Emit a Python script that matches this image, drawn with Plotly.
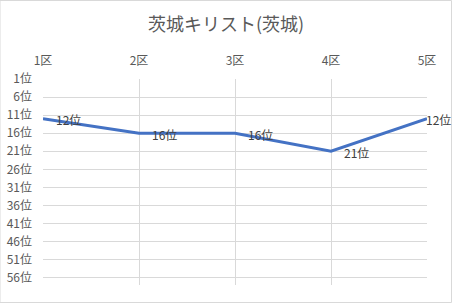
import plotly.graph_objects as go

categories = ["1区", "2区", "3区", "4区", "5区"]
ranks = [12, 16, 16, 21, 12]
labels = [f"{r}位" for r in ranks]

font_family = "Noto Sans CJK JP"
fig = go.Figure()
fig.add_trace(go.Scatter(
    x=categories, y=ranks, mode="lines",
    line=dict(color="#4472C4", width=3),
    cliponaxis=False, showlegend=False,
))
n = len(categories)
for i, (c, r, t) in enumerate(zip(categories, ranks, labels)):
    last = i == n - 1
    fig.add_annotation(x=c, y=r, text=t, showarrow=False, xanchor="left", yanchor="middle",
                       xshift=-3 if last else 11, yshift=-1,
                       font=dict(family=font_family, size=12, color="#404040"))
fig.update_layout(
    width=452, height=303,
    margin=dict(l=43, r=25, t=79, b=18, autoexpand=False),
    paper_bgcolor="white", plot_bgcolor="white",
    title=dict(text="茨城キリスト(茨城)", x=0.5, xanchor="center", y=1-25/303, yanchor="middle",
               font=dict(family=font_family, size=18, color="#595959")),
    font=dict(family=font_family, size=12, color="#595959"),
    shapes=[dict(type="rect", xref="paper", yref="paper", x0=-43/384, x1=1+24.5/384,
                 y0=-17.5/206, y1=1+78.5/206, line=dict(color="#d9d9d9", width=1))],
)
fig.update_xaxes(side="top", type="category", range=[0, 4], showgrid=True, gridcolor="#d9d9d9",
                 showline=False, zeroline=False, ticks="", ticklabelstandoff=11, automargin=False)
fig.update_yaxes(range=[58, 1], tick0=1, dtick=5, ticksuffix="位", showgrid=True,
                 gridcolor="#d9d9d9", zeroline=False, showline=False, ticks="",
                 ticklabelstandoff=10, automargin=False)
fig.write_html("out.html")
